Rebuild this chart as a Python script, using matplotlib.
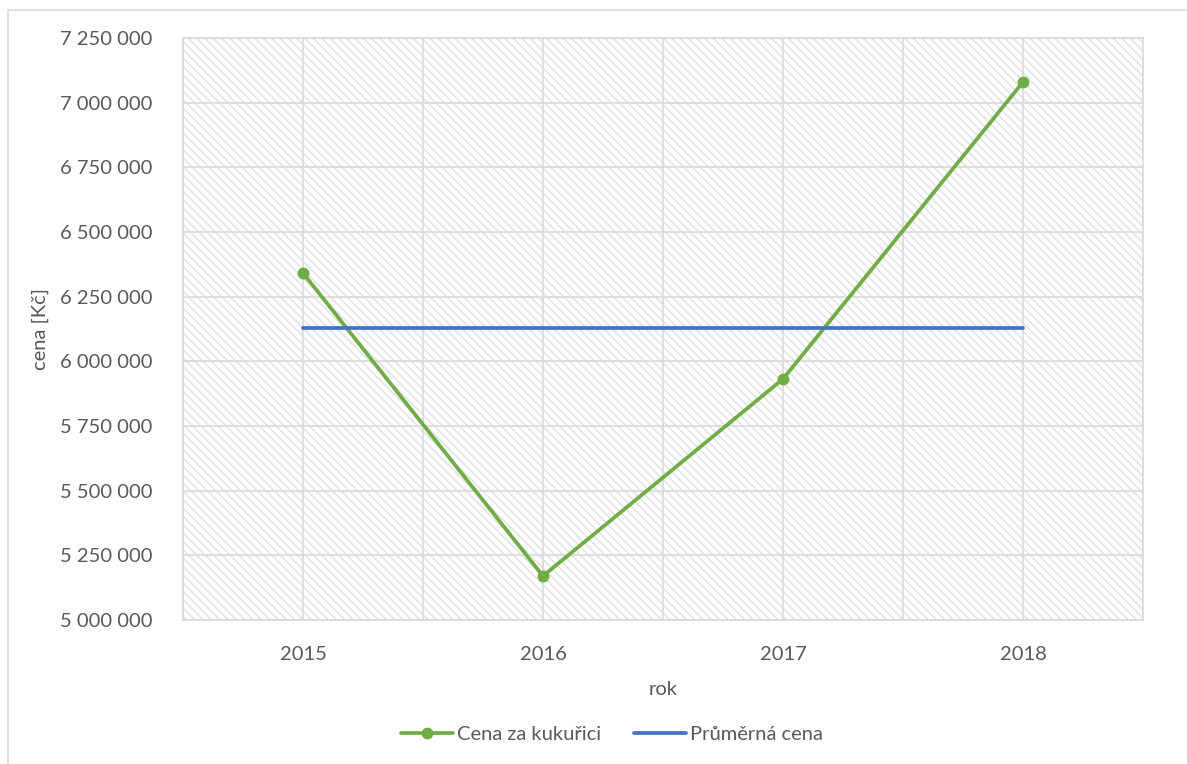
import matplotlib.pyplot as plt
import numpy as np
from matplotlib.patches import Rectangle
from matplotlib.ticker import FuncFormatter, MultipleLocator

plt.rcParams['font.family'] = ['Lato', 'DejaVu Sans']
plt.rcParams['hatch.linewidth'] = 1.0

years = ['2015', '2016', '2017', '2018']
cena = [6341500, 5170000, 5931700, 7079800]   # cena za kukuřici [Kč]
prumer = np.mean(cena)

txt = '#595959'
grid = '#d9d9d9'
green = '#70AD47'
blue = '#4472C4'

fig = plt.figure(figsize=(11.87, 7.64), dpi=100)
ax = fig.add_axes([183/1187, 1-620/764, (1143-183)/1187, (620-38)/764])

## -- outer chart border
fig.patches.append(Rectangle((8/1187, -0.1), 1.2, 1-10/764+0.1, transform=fig.transFigure,
                             facecolor='none', edgecolor=grid, lw=1.2, zorder=0))

## -- hatched plot area
ax.patch.set_facecolor('white')
ax.add_patch(Rectangle((0, 0), 1, 1, transform=ax.transAxes, facecolor='white',
                       edgecolor='#e0e0e0', lw=0, hatch='\\'*4, zorder=0))

x = np.arange(len(years))
ax.set_xlim(-0.5, len(years)-0.5)
ax.set_ylim(5000000, 7250000)
ax.yaxis.set_major_locator(MultipleLocator(250000))
ax.yaxis.set_major_formatter(FuncFormatter(lambda v, p: f'{v:,.0f}'.replace(',', ' ')))
ax.set_xticks(x)
ax.set_xticklabels(years)

for v in np.arange(5000000, 7250001, 250000):
    ax.axhline(v, color=grid, lw=1.2, zorder=1)
for v in np.arange(-0.5, len(years), 0.5):
    ax.axvline(v, color=grid, lw=1.2, zorder=1)

ax.plot(x, cena, color=green, lw=2.7, marker='o', markersize=7.5,
        solid_capstyle='round', label='Cena za kukuřici', zorder=3)
ax.plot([x[0], x[-1]], [prumer, prumer], color=blue, lw=2.7,
        solid_capstyle='round', label='Průměrná cena', zorder=3)

for s in ax.spines.values():
    s.set_color(grid)
    s.set_linewidth(1.2)
ax.tick_params(which='both', length=0, labelsize=14.5, colors=txt)
ax.tick_params(axis='y', pad=22)
ax.tick_params(axis='x', pad=19)

ax.set_xlabel('rok', fontsize=14.5, color=txt, labelpad=13)
ax.set_ylabel('cena [Kč]', fontsize=14.5, color=txt, labelpad=8)

leg = fig.legend(loc='center', bbox_to_anchor=(612/1187, 1-734/764), ncol=2, frameon=False,
                 fontsize=14.5, handlelength=2.6, handletextpad=0.2, columnspacing=1.6)
for t in leg.get_texts():
    t.set_color(txt)

fig.savefig('out.png', dpi=100)
